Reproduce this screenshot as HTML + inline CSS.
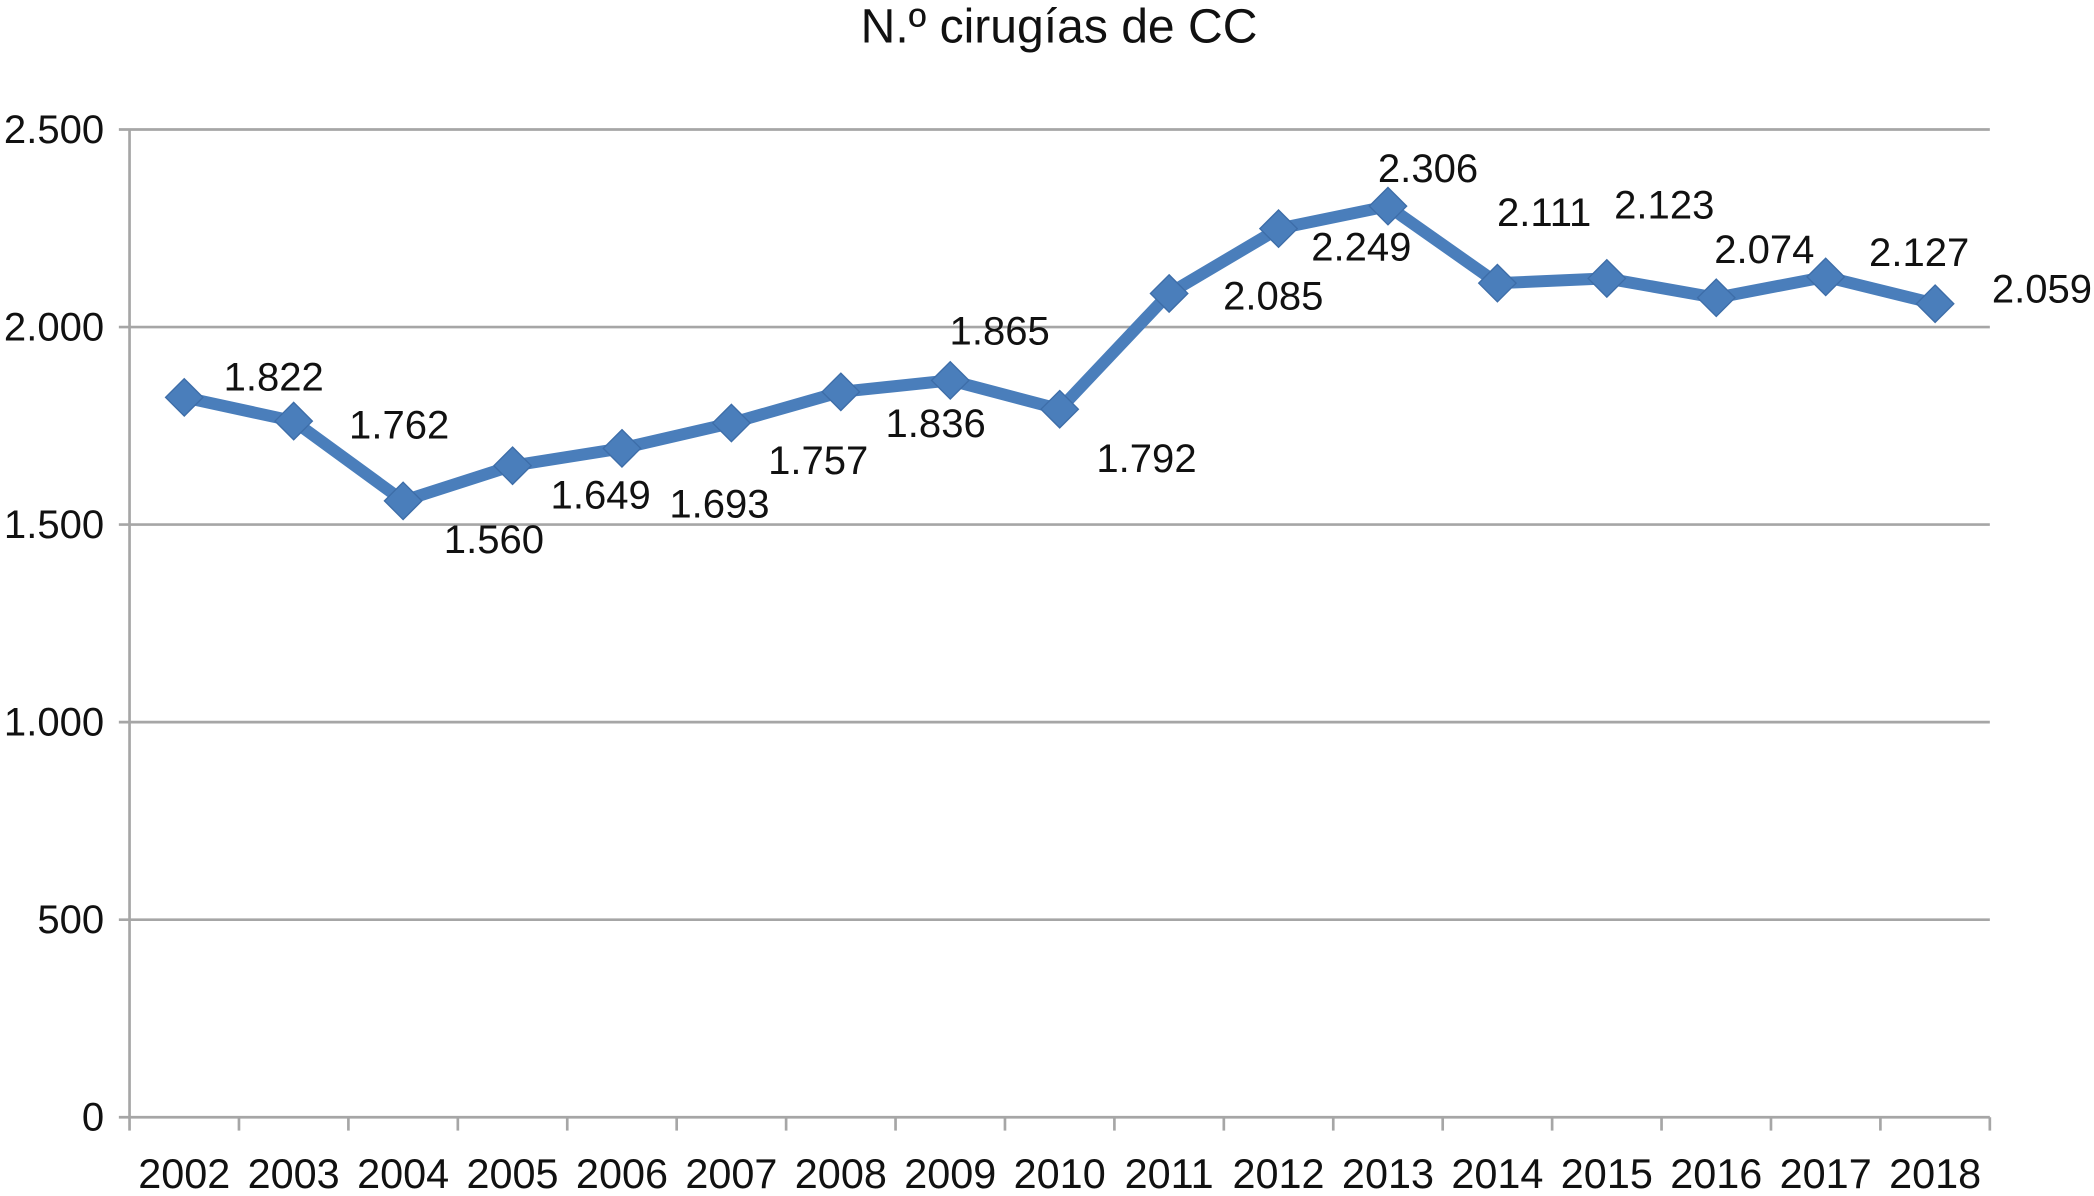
<!DOCTYPE html>
<html><head><meta charset="utf-8"><style>
html,body{margin:0;padding:0;background:#fff;}
svg{display:block;font-family:"Liberation Sans",Arial,sans-serif;}
</style></head><body>
<svg id="chart" width="2094" height="1196" viewBox="0 0 1568 896" preserveAspectRatio="none" xmlns="http://www.w3.org/2000/svg">
<text x="793" y="32" font-size="36" text-anchor="middle" fill="#111">N.º cirugías de CC</text>
<g id="grid"></g><g id="axes"></g><g id="series"></g><g id="labels"></g>
</svg>
<script>
const categories=["2002","2003","2004","2005","2006","2007","2008","2009","2010","2011","2012","2013","2014","2015","2016","2017","2018"];
const values=[1822,1762,1560,1649,1693,1757,1836,1865,1792,2085,2249,2306,2111,2123,2074,2127,2059];
const valueLabels=["1.822","1.762","1.560","1.649","1.693","1.757","1.836","1.865","1.792","2.085","2.249","2.306","2.111","2.123","2.074","2.127","2.059"];
const yTicks=[0,500,1000,1500,2000,2500];
const yTickLabels=["0","500","1.000","1.500","2.000","2.500"];
const labelDx=[67,79,68,66,73,65,71,37,65,78,62,30,35,43,36,70,80];
const labelDy=[-15,3,29,22,42,28,24,-37,37,2,14,-28,-53,-55,-36,-18,-11];
const NS="http://www.w3.org/2000/svg";
const L=97,R=1490,T=97,B=837,ymax=2500;
const bw=(R-L)/categories.length;
const x=i=>L+bw*(i+0.5);
const y=v=>B-(v/ymax)*(B-T);
function mk(tag,attrs,parent,txt){const e=document.createElementNS(NS,tag);for(const k in attrs)e.setAttribute(k,attrs[k]);if(txt!==undefined)e.textContent=txt;document.getElementById(parent).appendChild(e);return e;}
yTicks.forEach((t,i)=>{
  const g=mk('line',{x1:L-8,x2:R,y1:y(t),y2:y(t),stroke:'#a6a6a6','stroke-width':2},'grid');
  
  
  const tl=mk('text',{x:78,y:y(t)+10,'font-size':30,'text-anchor':'end',fill:'#111'},'axes',yTickLabels[i]);
  
  
});
const ya=mk('line',{x1:L,x2:L,y1:T,y2:B,stroke:'#a6a6a6','stroke-width':2},'axes');


for(let i=0;i<=categories.length;i++){
  const tk=mk('line',{x1:L+bw*i,x2:L+bw*i,y1:B,y2:B+10,stroke:'#a6a6a6','stroke-width':2},'axes');
  
  
}
categories.forEach((c,i)=>{
  const t=mk('text',{x:x(i),y:890,'font-size':31,'text-anchor':'middle',fill:'#111'},'axes',c);
  
  
});
const pts=values.map((v,i)=>x(i)+','+y(v)).join(' ');
const pl=mk('polyline',{points:pts,fill:'none',stroke:'#4a7ebb','stroke-width':9,'stroke-linejoin':'round'},'series');


values.forEach((v,i)=>{
  const cx=x(i),cy=y(v),s=14;
  const d=mk('polygon',{points:`${cx},${cy-s} ${cx+s},${cy} ${cx},${cy+s} ${cx-s},${cy}`,fill:'#4a7ebb',stroke:'#3d6da8','stroke-width':1},'series');
  
  
  const t=mk('text',{x:cx+labelDx[i],y:cy+labelDy[i]+10,'font-size':30,'text-anchor':'middle',fill:'#111'},'labels',valueLabels[i]);
  
  
});
</script>
</body></html>
